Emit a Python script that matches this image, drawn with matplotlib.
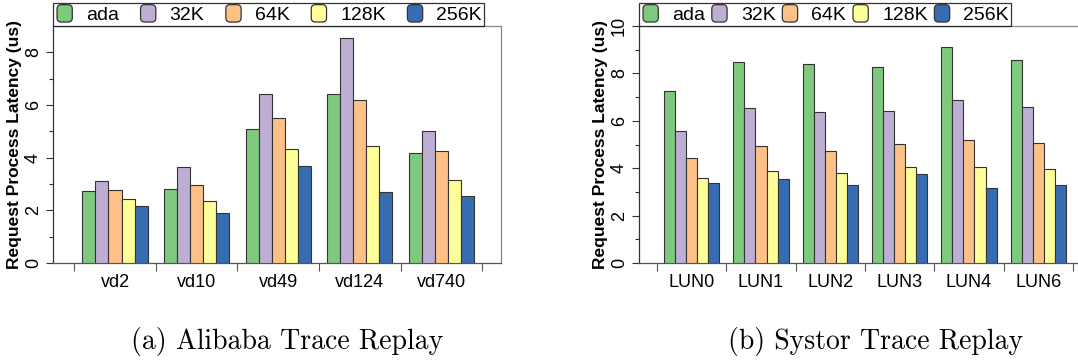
import numpy as np
import matplotlib
matplotlib.use("Agg")
import matplotlib.pyplot as plt
from matplotlib.patches import FancyBboxPatch, Patch
from matplotlib.legend_handler import HandlerPatch

plt.rcParams['font.family'] = ['Liberation Sans', 'DejaVu Sans']

# series names and colours
series = ["ada", "32K", "64K", "128K", "256K"]
colors = ["#7fc97f", "#beaed4", "#fdc086", "#ffff99", "#386cb0"]

# (a) Alibaba
ali_traces = ["vd2", "vd10", "vd49", "vd124", "vd740"]
ali_ada = [2.74, 2.82, 5.07, 6.43, 4.18]
ali_32k = [3.10, 3.64, 6.40, 8.56, 5.03]
ali_64k = [2.77, 2.96, 5.50, 6.19, 4.24]
ali_128k = [2.43, 2.35, 4.34, 4.46, 3.15]
ali_256k = [2.16, 1.91, 3.70, 2.71, 2.54]

# (b) Systor
sys_traces = ["LUN0", "LUN1", "LUN2", "LUN3", "LUN4", "LUN6"]
sys_ada = [7.25, 8.50, 8.38, 8.26, 9.10, 8.58]
sys_32k = [5.56, 6.53, 6.36, 6.43, 6.88, 6.60]
sys_64k = [4.41, 4.94, 4.72, 5.04, 5.17, 5.06]
sys_128k = [3.57, 3.90, 3.78, 4.07, 4.03, 3.96]
sys_256k = [3.38, 3.54, 3.29, 3.76, 3.16, 3.29]


class RoundedHandler(HandlerPatch):
    def create_artists(self, legend, orig_handle, xdescent, ydescent,
                       width, height, fontsize, trans):
        sw, sh = 11.0, 12.5
        p = FancyBboxPatch((-xdescent + (width - sw) / 2, -ydescent + (height - sh) / 2),
                           sw, sh, boxstyle="round,pad=0,rounding_size=3",
                           facecolor=orig_handle.get_facecolor(),
                           edgecolor="#333333", linewidth=0.9, transform=trans)
        return [p]


def draw_panel(ax, traces, data, ymax):
    x = np.arange(len(traces))
    w = 0.16
    for i, vals in enumerate(data):
        ax.bar(x + (i - 2) * w, vals, w, color=colors[i],
               edgecolor="#333333", linewidth=0.8, zorder=3)
    ax.set_xlim(-0.76, len(traces) - 0.5 + 0.23)
    ax.set_ylim(0, ymax)
    ax.set_xticks(np.arange(len(traces) + 1) - 0.5)
    ax.set_xticklabels([])
    ax.set_xticks(x, minor=True)
    ax.set_xticklabels(traces, minor=True, fontsize=13)
    ax.tick_params(axis='x', which='major', length=6, width=0.8, color="#555555")
    ax.tick_params(axis='x', which='minor', length=0, pad=8)
    ax.set_yticks(np.arange(0, ymax + 0.1, 2))
    ax.set_yticks(np.arange(1, ymax, 2), minor=True)
    ax.tick_params(axis='y', which='major', length=5, width=0.8, labelsize=13,
                   labelrotation=90, pad=3, color="#333333")
    ax.tick_params(axis='y', which='minor', length=3, width=0.8, color="#333333")
    for lab in ax.get_yticklabels():
        lab.set_va('center')
    ax.set_ylabel("Request Process Latency (us)", fontsize=12.5, fontweight='bold', labelpad=2)
    ax.spines['left'].set_color("#333333")
    ax.spines['bottom'].set_color("#555555")
    ax.spines['top'].set_color("#888888")
    ax.spines['right'].set_color("#888888")
    for s in ax.spines.values():
        s.set_linewidth(0.9)


fig = plt.figure(figsize=(10.78, 3.64), dpi=100)
ax1 = fig.add_axes([53 / 1078, 101 / 364, 448 / 1078, 237 / 364])
ax2 = fig.add_axes([639 / 1078, 101 / 364, 445 / 1078, 237 / 364])

draw_panel(ax1, ali_traces, [ali_ada, ali_32k, ali_64k, ali_128k, ali_256k], 9.0)
draw_panel(ax2, sys_traces, [sys_ada, sys_32k, sys_64k, sys_128k, sys_256k], 10.0)
ax2.set_xlim(-0.76, 5.66)

handles = [Patch(facecolor=c, label=s) for c, s in zip(colors, series)]
for ax, wpx in [(ax1, 431), (ax2, 372)]:
    bw = ax.get_position().width * 1078
    leg = ax.legend(handles=handles, ncol=5, loc='lower left', mode='expand',
                    bbox_to_anchor=(0, 1.0, wpx / bw, 23 / 237), borderaxespad=0,
                    fontsize=14, frameon=True, fancybox=False, edgecolor='black',
                    handlelength=1.0, handleheight=0.9, handletextpad=0.6,
                    borderpad=0.1, columnspacing=0.8,
                    handler_map={Patch: RoundedHandler()})
    leg.get_frame().set_linewidth(0.9)

fig.text(287 / 1078, 1 - 341 / 364, "(a) Alibaba Trace Replay", family='cmr10',
         fontsize=20, ha='center', va='center')
fig.text(876 / 1078, 1 - 341 / 364, "(b) Systor Trace Replay", family='cmr10',
         fontsize=20, ha='center', va='center')

fig.savefig("out.png", dpi=100)
